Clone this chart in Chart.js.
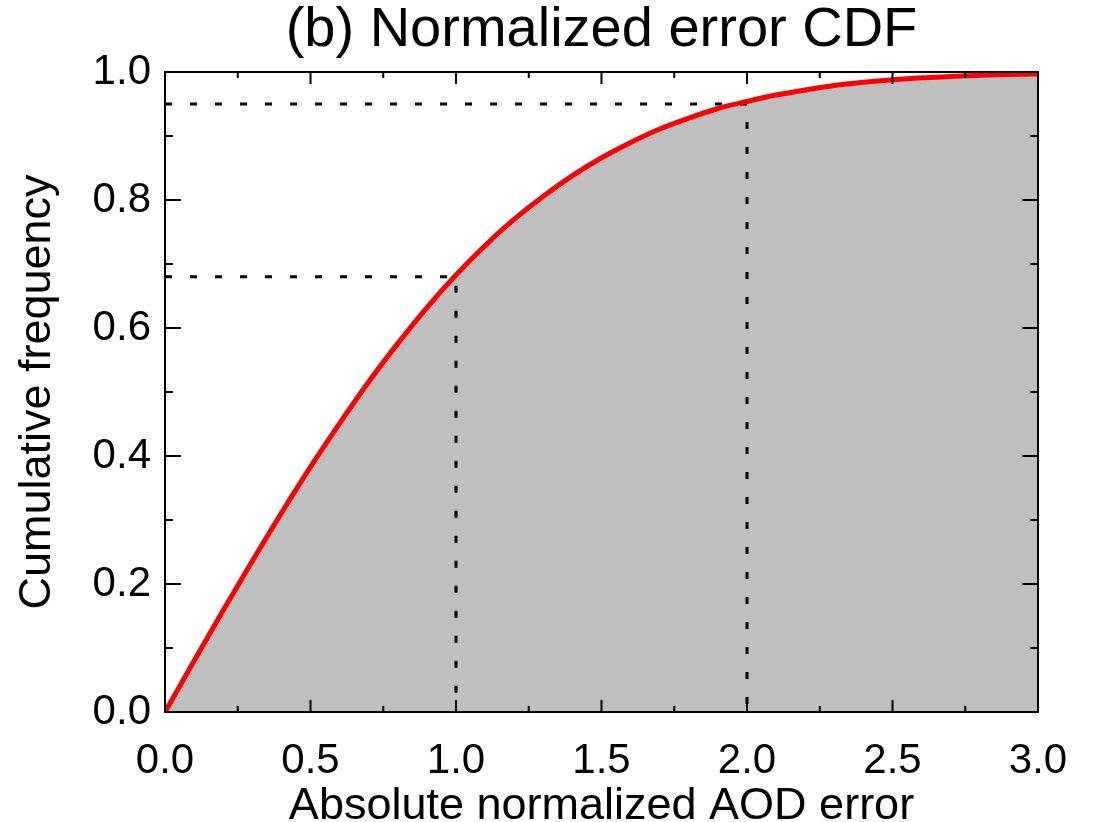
<!DOCTYPE html>
<html>
<head>
<meta charset="utf-8">
<script src="https://cdn.jsdelivr.net/npm/chart.js@4.4.1/dist/chart.umd.min.js"></script>
<style>
  html, body { margin: 0; padding: 0; background: #fff; }
</style>
</head>
<body>
<canvas id="grafico" width="1099" height="822"></canvas>
<script>
// curve
const errX = [0.0, 0.1, 0.2, 0.3, 0.4, 0.5, 0.6, 0.7, 0.8, 0.9, 1.0,
              1.1, 1.2, 1.3, 1.4, 1.5, 1.6, 1.7, 1.8, 1.9, 2.0,
              2.1, 2.2, 2.3, 2.4, 2.5, 2.6, 2.7, 2.8, 2.9, 3.0];
const cumFreq = [0.000, 0.080, 0.159, 0.236, 0.311, 0.383, 0.451, 0.516, 0.576, 0.632, 0.683,
                 0.729, 0.770, 0.806, 0.838, 0.866, 0.890, 0.911, 0.928, 0.943, 0.954,
                 0.964, 0.972, 0.979, 0.984, 0.988, 0.991, 0.993, 0.995, 0.996, 0.997];

// dotted guide lines (x where they drop, y level)
const guideX = [1.0, 2.0];
const guideY = [0.68, 0.95];

// ticks
const xMajor = [0.0, 0.5, 1.0, 1.5, 2.0, 2.5, 3.0];
const xMinor = [0.25, 0.75, 1.25, 1.75, 2.25, 2.75];
const yMajor = [0.0, 0.2, 0.4, 0.6, 0.8, 1.0];
const yMinor = [0.1, 0.3, 0.5, 0.7, 0.9];

const FONT = '"Liberation Sans", Arial, Helvetica, sans-serif';

// inward ticks on all four sides + frame, title centred over the plot box
const frameTicks = {
  id: 'frameTicks',
  afterLayout(chart) {
    const t = chart.titleBlock;
    if (t) { t.left = chart.chartArea.left; t.right = chart.chartArea.right; }
  },
  afterDraw(chart) {
    const ctx = chart.ctx;
    const a = chart.chartArea;
    const x = chart.scales.x, y = chart.scales.y;
    ctx.save();
    ctx.strokeStyle = '#000';
    ctx.lineWidth = 2;
    ctx.beginPath();
    const xt = (vals, len) => vals.forEach(v => {
      const p = x.getPixelForValue(v);
      ctx.moveTo(p, a.bottom); ctx.lineTo(p, a.bottom - len);
      ctx.moveTo(p, a.top); ctx.lineTo(p, a.top + len);
    });
    const yt = (vals, len) => vals.forEach(v => {
      const p = y.getPixelForValue(v);
      ctx.moveTo(a.left, p); ctx.lineTo(a.left + len, p);
      ctx.moveTo(a.right, p); ctx.lineTo(a.right - len, p);
    });
    xt(xMajor, 12); xt(xMinor, 6);
    yt(yMajor, 16); yt(yMinor, 8);
    ctx.stroke();
    ctx.strokeRect(a.left, a.top, a.right - a.left, a.bottom - a.top);
    ctx.restore();
  }
};

const guides = guideX.map((gx, i) => ({
  data: [{x: 0, y: guideY[i]}, {x: gx, y: guideY[i]}, {x: gx, y: 0}],
  borderColor: '#000',
  borderWidth: 3,
  borderDash: [7, 18],
  pointRadius: 0,
  fill: false,
  order: 1
}));

const config = {
  type: 'line',
  data: {
    datasets: [{
      data: errX.map((v, i) => ({x: v, y: cumFreq[i]})),
      borderColor: '#ff0000',
      borderWidth: 5,
      backgroundColor: '#bfbfbf',
      fill: 'origin',
      pointRadius: 0,
      cubicInterpolationMode: 'monotone',
      order: 0
    }].concat(guides)
  },
  options: {
    responsive: false,
    animation: false,
    devicePixelRatio: 1,
    layout: { padding: { left: 0, right: 61, top: 0, bottom: 0 } },
    plugins: {
      legend: { display: false },
      tooltip: { enabled: false },
      filler: { drawTime: 'beforeDatasetsDraw' },
      title: {
        display: true,
        text: '(b) Normalized error CDF',
        color: '#000',
        font: { family: FONT, size: 56, weight: 'normal', lineHeight: 1.0 },
        padding: { top: 3, bottom: 13 }
      }
    },
    scales: {
      x: {
        type: 'linear',
        min: 0, max: 3,
        afterBuildTicks: s => { s.ticks = xMajor.map(v => ({value: v})); },
        afterFit: s => { s.height = 110; },
        grid: { display: false, drawTicks: false },
        border: { display: false },
        ticks: {
          color: '#000',
          padding: 24,
          font: { family: FONT, size: 42 },
          callback: v => v.toFixed(1)
        },
        title: {
          display: true,
          text: 'Absolute normalized AOD error',
          color: '#000',
          font: { family: FONT, size: 45, lineHeight: 0.7 },
          padding: { top: 0, bottom: 0 }
        }
      },
      y: {
        type: 'linear',
        min: 0, max: 1,
        afterBuildTicks: s => { s.ticks = yMajor.map(v => ({value: v})); },
        afterFit: s => { s.width = 165; },
        grid: { display: false, drawTicks: false },
        border: { display: false },
        ticks: {
          color: '#000',
          padding: 14,
          font: { family: FONT, size: 42 },
          callback: v => v.toFixed(1)
        },
        title: {
          display: true,
          text: 'Cumulative frequency',
          color: '#000',
          font: { family: FONT, size: 45, lineHeight: 1.0 },
          padding: { top: 15, bottom: 0 }
        }
      }
    }
  },
  plugins: [frameTicks]
};

const grafico = new Chart(document.getElementById('grafico'), config);
</script>
</body>
</html>
